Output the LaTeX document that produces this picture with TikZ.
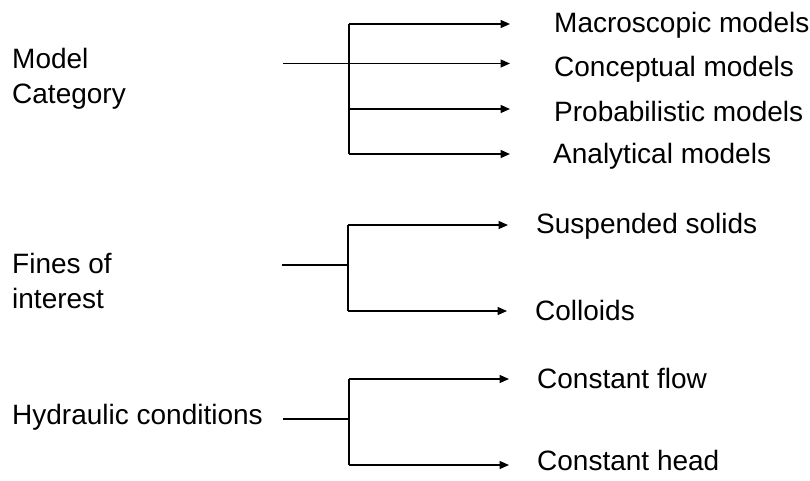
\documentclass[tikz,border=0pt]{standalone}
\usepackage{fontspec}
\setmainfont{Liberation Sans}
\usetikzlibrary{arrows.meta}
\begin{document}
\begin{tikzpicture}[x=1pt,y=-1pt,
  lbl/.style={anchor=base west,inner sep=0pt,font=\fontsize{28}{34}\selectfont},
  conn/.style={line width=1.5pt,black},
  arr/.style={conn,-{Triangle[length=9.5pt,width=8pt]}}]
\useasboundingbox (0,0) rectangle (810,480);
% left labels
\node[lbl] (model) at (12,68) {Model};
\node[lbl] (cat) at (12,103) {Category};
\node[lbl] (fines) at (12,273) {Fines of};
\node[lbl] (inter) at (12,308) {interest};
\node[lbl] (hyd) at (12,424) {Hydraulic conditions};
% right labels
\node[lbl] (macro) at (554,32) {Macroscopic models};
\node[lbl] (conc) at (554,76) {Conceptual models};
\node[lbl] (prob) at (554,121) {Probabilistic models};
\node[lbl] (anal) at (553,163) {Analytical models};
\node[lbl] (susp) at (536,233) {Suspended solids};
\node[lbl] (coll) at (535,320) {Colloids};
\node[lbl] (cflow) at (537,388) {Constant flow};
\node[lbl] (chead) at (537,470) {Constant head};
% group 1
\coordinate (s1) at (283,63.5);
\coordinate (j1a) at (349,24);
\coordinate (j1b) at (349,63.5);
\coordinate (j1c) at (349,109);
\coordinate (j1d) at (349,154);
\coordinate (t1a) at (510,24);
\coordinate (t1b) at (510,63.5);
\coordinate (t1c) at (510,109);
\coordinate (t1d) at (510,154);
\draw[conn] (j1a) -- (j1d);
\draw[arr] (s1) -- (t1b);
\draw[arr] (j1a) -- (t1a);
\draw[arr] (j1c) -- (t1c);
\draw[arr] (j1d) -- (t1d);
% group 2
\coordinate (s2) at (282,265);
\coordinate (j2) at (348,265);
\coordinate (j2a) at (348,225);
\coordinate (j2b) at (348,311);
\coordinate (t2a) at (508,225);
\coordinate (t2b) at (507,311);
\draw[conn] (s2) -- (j2);
\draw[conn] (j2a) -- (j2b);
\draw[arr] (j2a) -- (t2a);
\draw[arr] (j2b) -- (t2b);
% group 3
\coordinate (s3) at (283,419);
\coordinate (j3) at (349,419);
\coordinate (j3a) at (349,379);
\coordinate (j3b) at (349,465);
\coordinate (t3a) at (509,379);
\coordinate (t3b) at (509,465);
\draw[conn] (s3) -- (j3);
\draw[conn] (j3a) -- (j3b);
\draw[arr] (j3a) -- (t3a);
\draw[arr] (j3b) -- (t3b);
\end{tikzpicture}
\end{document}
